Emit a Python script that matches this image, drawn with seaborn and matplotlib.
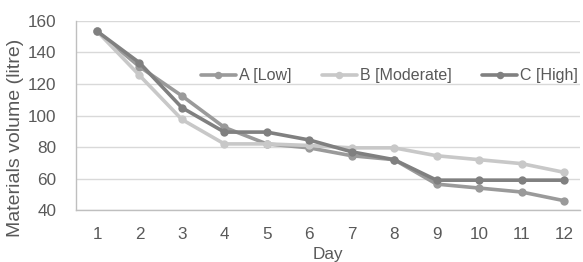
import matplotlib
matplotlib.use("Agg")
import matplotlib.pyplot as plt
import numpy as np
import pandas as pd
import seaborn as sns

# Chart data
days = list(range(1, 13))
low = [153.5, 131, 112.5, 92.5, 82, 79.5, 74.5, 72, 56.5, 54, 51.5, 46]
moderate = [153.5, 125.5, 97.5, 82, 82, 81, 79.5, 79.5, 74.5, 72, 69.5, 64]
high = [153.5, 133.5, 105, 89.5, 89.5, 84.5, 77, 72, 59, 59, 59, 59]
series_names = ["A [Low]", "B [Moderate]", "C [High]"]
colors = ["#9a9a9a", "#c8c8c8", "#808080"]

df = pd.DataFrame({
    "Day": days * 3,
    "Volume": low + moderate + high,
    "Series": np.repeat(series_names, len(days)),
})

sns.set_style("white")
plt.rcParams["font.family"] = ["Liberation Sans", "DejaVu Sans"]
text_color = "#595959"

fig = plt.figure(figsize=(5.83, 2.62), dpi=100)
ax = fig.add_axes([0.13, 0.198, 0.865, 0.722])

sns.lineplot(
    data=df, x="Day", y="Volume", hue="Series", palette=colors,
    hue_order=series_names, marker="o", markersize=6, linewidth=2.6,
    markeredgewidth=0, ax=ax,
)

ax.set_xlim(0.5, 12.38)
ax.set_ylim(40, 160)
ax.set_xticks(days)
ax.set_yticks(range(40, 161, 20))
ax.set_yticks(range(50, 160, 20), minor=True)
ax.grid(axis="y", color="#d9d9d9", linewidth=1)
ax.set_axisbelow(True)
for side in ["top", "right"]:
    ax.spines[side].set_visible(False)
for side in ["left", "bottom"]:
    ax.spines[side].set_color("#bfbfbf")
    ax.spines[side].set_linewidth(1)
ax.tick_params(axis="both", which="both", colors="#bfbfbf", labelcolor=text_color,
               labelsize=12.3, direction="out", length=4, width=1)
ax.tick_params(axis="x", pad=8)
ax.tick_params(axis="y", pad=10)
ax.set_xlabel("Day", color=text_color, fontsize=12.3, labelpad=4)
ax.set_ylabel("Materials volume (litre)", color=text_color, fontsize=14)
ax.yaxis.set_label_coords(-0.103, 0.38)

leg = ax.legend(
    loc="center", bbox_to_anchor=(0.622, 0.71), ncol=3, frameon=False,
    fontsize=11.5, handlelength=2.2, columnspacing=1.9, handletextpad=0.2,
    markerscale=0.9,
)
for t in leg.get_texts():
    t.set_color(text_color)

fig.savefig("out.png", dpi=100)
